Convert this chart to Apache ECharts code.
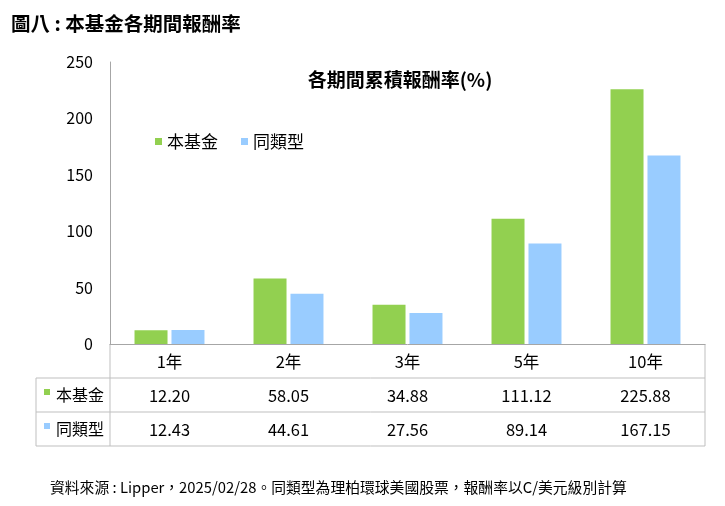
<!DOCTYPE html>
<html>
<head>
<meta charset="utf-8">
<script src="https://cdn.jsdelivr.net/npm/echarts@6/dist/echarts.min.js"></script>
<style>
  html, body { margin: 0; padding: 0; background: #fff; }
  #chart { width: 725px; height: 506px; }
</style>
</head>
<body>
<div id="chart"></div>
<script>
// 期間與報酬率
var periods = ['1年', '2年', '3年', '5年', '10年'];
var fundName = '本基金';
var peerName = '同類型';
var fundValues = [12.20, 58.05, 34.88, 111.12, 225.88];
var peerValues = [12.43, 44.61, 27.56, 89.14, 167.15];
var yTicks = { min: 0, max: 250, interval: 50 };

var green = '#92D050';
var blue = '#99CCFF';
var font = '"Noto Sans CJK TC", "Noto Sans", sans-serif';

var gridLeft = 110, gridRight = 705, gridTop = 62, zeroY = 344;
var rowH = 34, tableLeft = 36;
var lineColor = '#BFBFBF';
var cellFont = 16.5;

function fmt(v) { return v.toFixed(2); }

function hline(x1, x2, y) {
    return { type: 'line', shape: { x1: x1, y1: y, x2: x2, y2: y },
        style: { stroke: lineColor, lineWidth: 1 }, silent: true };
}
function vline(x, y1, y2) {
    return { type: 'line', shape: { x1: x, y1: y1, x2: x, y2: y2 },
        style: { stroke: lineColor, lineWidth: 1 }, silent: true };
}

var tableBottom = zeroY + rowH * 3;
var graphics = [
    hline(tableLeft, gridRight, zeroY + rowH),
    hline(tableLeft, gridRight, zeroY + rowH * 2),
    hline(tableLeft, gridRight, tableBottom),
    vline(tableLeft, zeroY + rowH, tableBottom),
    vline(gridLeft, zeroY, tableBottom),
    vline(gridRight, zeroY, tableBottom)
];

// 表格列名稱
[[fundName, green], [peerName, blue]].forEach(function (r, i) {
    var cy = zeroY + rowH * (i + 1) + rowH / 2;
    graphics.push({ type: 'rect', shape: { x: 44, y: cy - 6, width: 6, height: 6 },
        style: { fill: r[1] } });
    graphics.push({ type: 'text', x: 56, y: cy, style: { text: r[0], font: '16px ' + font,
        fill: '#000', verticalAlign: 'middle' } });
});

var chart = echarts.init(document.getElementById('chart'));
chart.setOption({
    animation: false,
    textStyle: { fontFamily: font },
    title: [
        { text: '圖八 : 本基金各期間報酬率', left: 6, top: 9,
          textStyle: { fontSize: 19.5, fontWeight: 'bold', color: '#000', fontFamily: font } },
        { text: '各期間累積報酬率(%)', left: 395, top: 65, textAlign: 'center',
          textStyle: { fontSize: 19, fontWeight: 'bold', color: '#000', fontFamily: font } },
        { text: '資料來源 : Lipper，2025/02/28。同類型為理柏環球美國股票，報酬率以C/美元級別計算',
          left: 45, top: 475,
          textStyle: { fontSize: 14.8, fontWeight: 'normal', color: '#000', fontFamily: font } }
    ],
    legend: {
        left: 150, top: 128, icon: 'rect', itemWidth: 7, itemHeight: 7, itemGap: 23,
        textStyle: { fontSize: 17, color: '#000', fontFamily: font },
        data: [fundName, peerName]
    },
    grid: { left: gridLeft, right: 725 - gridRight, top: gridTop, bottom: 506 - zeroY },
    xAxis: [
        { type: 'category', data: periods, position: 'bottom',
          axisLine: { lineStyle: { color: '#A6A6A6' } }, axisTick: { show: false },
          axisLabel: { fontSize: cellFont, color: '#000', margin: 9 } },
        { type: 'category', data: fundValues.map(fmt), position: 'bottom', offset: rowH,
          axisLine: { show: false }, axisTick: { show: false },
          axisLabel: { fontSize: cellFont, color: '#000', margin: 9 } },
        { type: 'category', data: peerValues.map(fmt), position: 'bottom', offset: rowH * 2,
          axisLine: { show: false }, axisTick: { show: false },
          axisLabel: { fontSize: cellFont, color: '#000', margin: 9 } }
    ],
    yAxis: {
        type: 'value', min: yTicks.min, max: yTicks.max, interval: yTicks.interval,
        axisLine: { show: true, lineStyle: { color: '#A6A6A6' } }, axisTick: { show: false },
        splitLine: { show: false },
        axisLabel: { fontSize: 16, color: '#000', margin: 17 }
    },
    series: [
        { name: fundName, type: 'bar', data: fundValues, barWidth: 33, barGap: '12%',
          itemStyle: { color: green } },
        { name: peerName, type: 'bar', data: peerValues, barWidth: 33,
          itemStyle: { color: blue } }
    ],
    graphic: graphics
});
</script>
</body>
</html>
